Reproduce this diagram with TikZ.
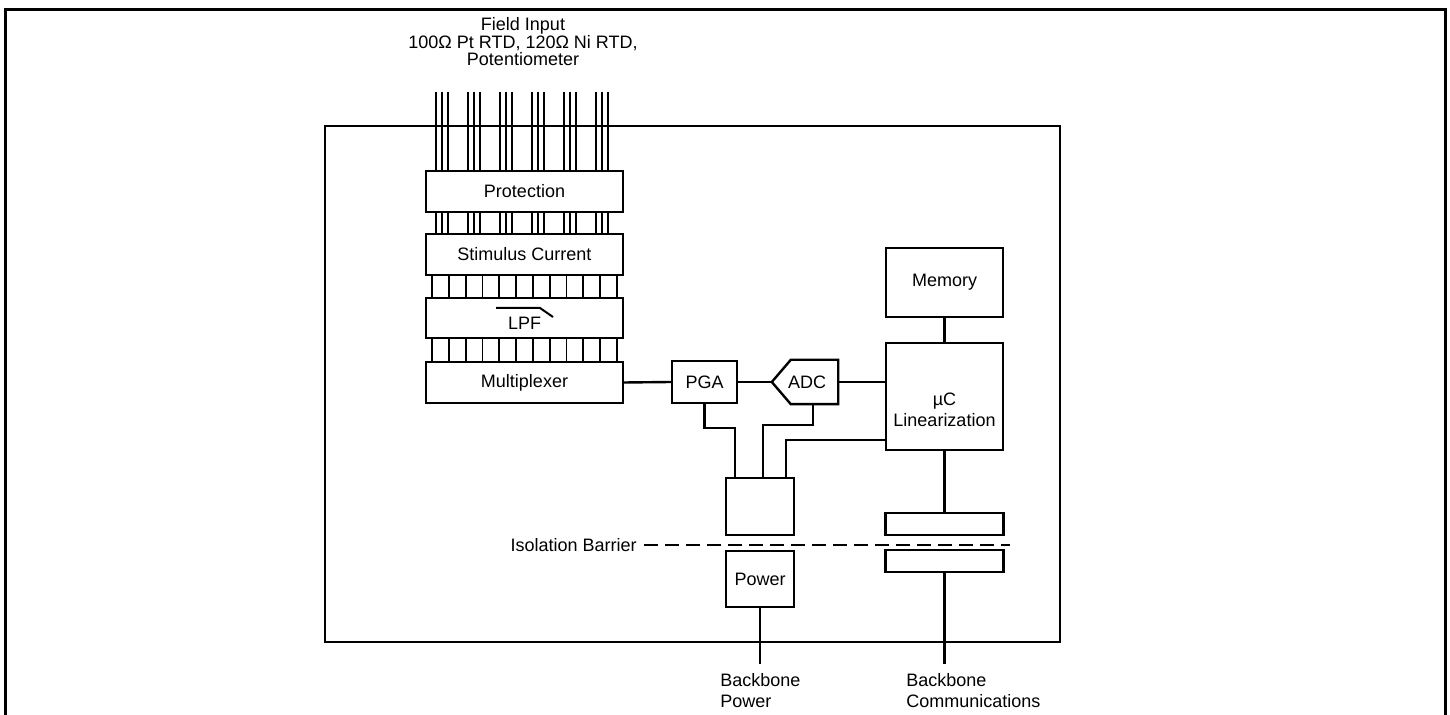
\documentclass[tikz,border=0pt]{standalone}
\usepackage{fontspec}
\setmainfont{Liberation Sans}
\usetikzlibrary{calc}

\tikzset{
  box/.style={draw, line width=1.2pt, inner sep=0pt, font=\fontsize{9}{10.5}\selectfont},
  lbl/.style={inner sep=0pt, font=\fontsize{9}{10.5}\selectfont},
  link/.style={line width=1.2pt},
  wire/.style={line width=0.9pt},
}

\begin{document}
\begin{tikzpicture}[x=0.5pt, y=-0.5pt]
\useasboundingbox (0,0) rectangle (1450,715);
% frame and module housing
\draw[line width=1.5pt] (5,715) -- (5,10) -- (1445,10) -- (1445,715);
\draw[line width=1.2pt] (325,126) rectangle (1060,642);

% input chain
\node[box, minimum width=98.5pt, minimum height=20.5pt] (prot) at (524.5,191.5) {Protection};
\node[box, minimum width=98.5pt, minimum height=20.5pt] (stim) at (524.5,254.5) {Stimulus Current};
\node[box, minimum width=98.5pt, minimum height=20pt] (lpf) at (524.5,318) {};
\node[lbl] (lpftxt) at ([yshift=-2.5pt]lpf.center) {LPF};
\node[box, minimum width=98.5pt, minimum height=20.5pt] (mux) at (524.5,382.5) {Multiplexer};
\draw[line width=1pt] ([shift={(-14.25pt,5pt)}]lpf.center) -- ([shift={(7.75pt,5pt)}]lpf.center)
  -- ([shift={(14.25pt,0.5pt)}]lpf.center);

\node[lbl, align=center, font=\fontsize{9}{8.75}\selectfont] (field) at (523,42)
  {Field Input\\100Ω Pt RTD, 120Ω Ni RTD,\\Potentiometer};

% field wires
\foreach \g in {0,...,5}
  \foreach \d in {0,6,12} {
    \pgfmathsetmacro\wx{436+32*\g+\d}
    \draw[wire] (\wx,92) -- (\wx,0 |- prot.north);
    \draw[wire] (\wx,0 |- prot.south) -- (\wx,0 |- stim.north);
  }
\foreach \k in {0,...,11} {
  \pgfmathsetmacro\wx{432+16.8*\k}
  \draw[wire] (\wx,0 |- stim.south) -- (\wx,0 |- lpf.north);
  \draw[wire] (\wx,0 |- lpf.south) -- (\wx,0 |- mux.north);
}

% conversion
\node[box, minimum width=32.5pt, minimum height=21pt] (pga) at (704.5,382) {PGA};
\node[box, draw=none, minimum width=32pt, minimum height=21pt] (adc) at (805,382) {\hspace{2pt}ADC};
\draw[link] (adc.west) -- ([xshift=9.5pt]adc.north west) -- (adc.north east)
  -- (adc.south east) -- ([xshift=9.5pt]adc.south west) -- cycle;

\node[box, minimum width=58.5pt, minimum height=34.5pt] (mem) at (944.5,282.5) {Memory};
\node[box, minimum width=58.5pt, minimum height=53.5pt] (uc) at (944.5,396.5) {};
\node[lbl, align=center] (uctxt) at ([yshift=-6.5pt]uc.center) {µC\\Linearization};

% isolated supply and couplers
\node[box, minimum width=34pt, minimum height=28.5pt] (iso) at (760,506.5) {};
\node[box, minimum width=34pt, minimum height=28pt] (pwr) at (760,579) {Power};
\node[box, minimum width=59pt, minimum height=11pt] (comma) at (944.5,524) {};
\node[box, minimum width=59pt, minimum height=11pt] (commb) at (944.5,561) {};

\draw[link] (mux.east) -- (pga.west);
\draw[link] (pga.east) -- (adc.west);
\draw[link] (adc.east) -- (adc.east -| uc.west);
\draw[link] (mem.south) -- (uc.north);

\coordinate (pgajog) at (735,428);
\coordinate (adcjog) at (763,425);
\coordinate (ucjog) at (786,440);
\draw[link] (pga.south) |- (pgajog) -- (pgajog |- iso.north);
\draw[link] ([xshift=4pt]adc.south) |- (adcjog) -- (adcjog |- iso.north);
\draw[link] (ucjog -| uc.west) -| (ucjog |- iso.north);
\draw[link] (uc.south) -- (comma.north);

% isolation barrier
\coordinate (barrier) at (1010,545);
\node[lbl, anchor=east] (isolbl) at (637,545) {Isolation Barrier};
\draw[link, dash pattern=on 7pt off 3.5pt] ([xshift=3.5pt]isolbl.east) -- (barrier);

% backbone
\node[lbl, anchor=north west, align=left] (bbpwr) at (720,673) {Backbone\\Power};
\node[lbl, anchor=north west, align=left] (bbcomm) at (906,673) {Backbone\\Communications};
\coordinate (pwrend) at (760,664);
\coordinate (commend) at (944.5,664);
\draw[link] (pwr.south) -- (pwrend);
\draw[link] (commb.south) -- (commend);
\end{tikzpicture}
\end{document}
